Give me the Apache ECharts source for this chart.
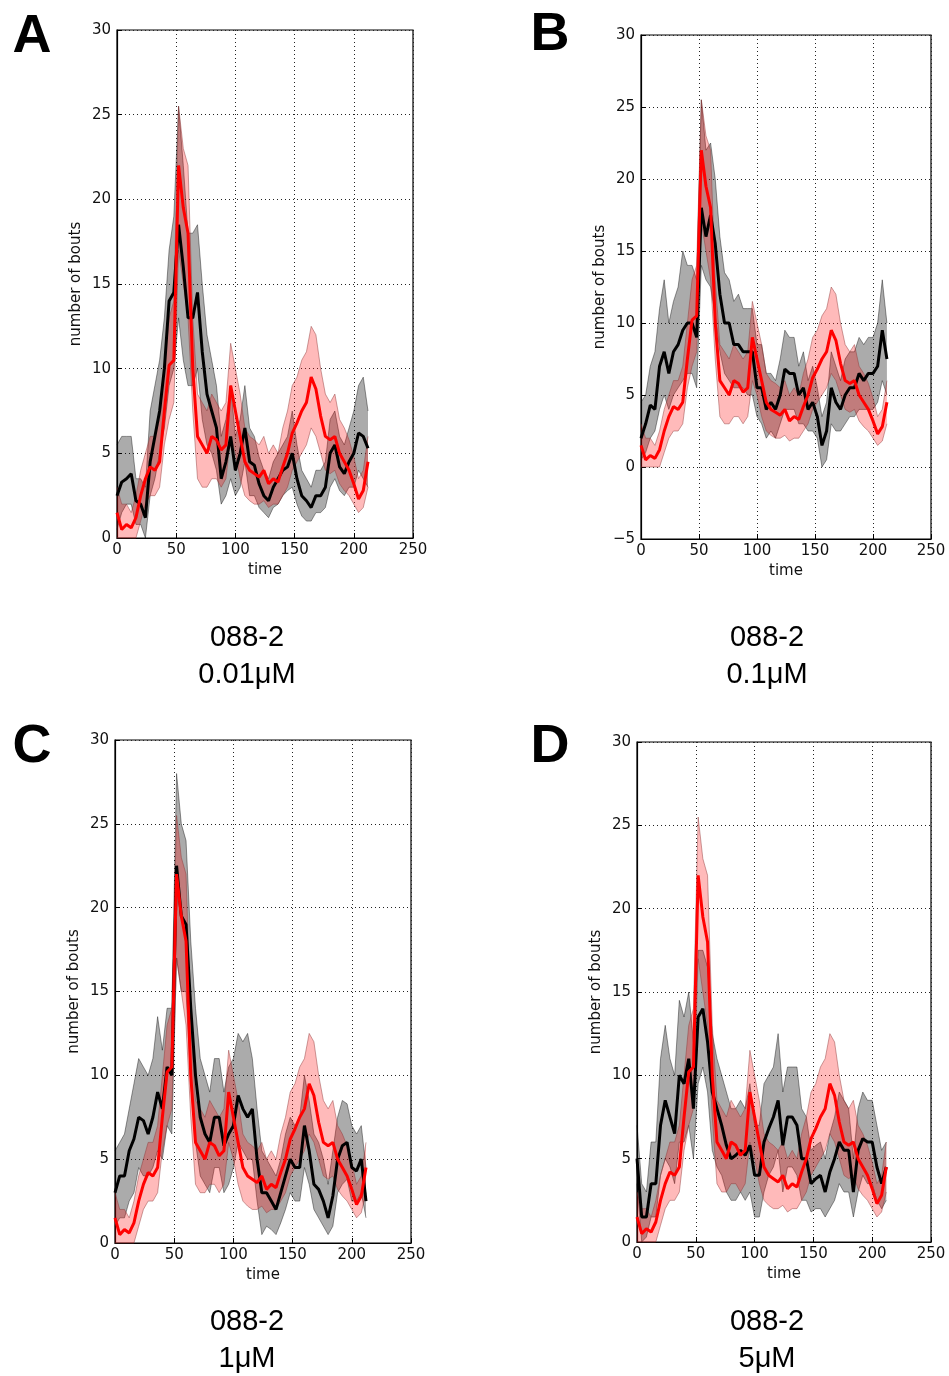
<!DOCTYPE html>
<html>
<head>
<meta charset="utf-8">
<script src="https://cdn.jsdelivr.net/npm/echarts@6/dist/echarts.min.js"></script>
<style>html,body{margin:0;padding:0;background:#fff}#c{width:949px;height:1376px}</style>
</head>
<body>
<div id="c"></div>
<script>
// ---- data ----
const times = [0,4,8,12,16,20,24,28,32,36,40,44,48,52,56,60,64,68,72,76,80,84,88,92,96,100,104,108,112,116,120,124,128,132,136,140,144,148,152,156,160,164,168,172,176,180,184,188,192,196,200,204,208,212];
const xTicks = [0,50,100,150,200,250];

// red (control) series, identical in all panels
const redMean  = [1.5,0.5,0.8,0.6,1.2,2.5,3.5,4.2,4.0,4.5,7.5,10.2,10.5,22,19.5,18,10,6,5.5,5,6,5.8,5.2,5.5,9,7.5,6,4.5,4,3.8,3.6,4,3.2,3.5,3.3,4.2,5,6.2,6.8,7.5,8,9.5,8.8,7.2,6,5.8,6,5,4.5,4,3.2,2.3,2.8,4.5];
const redLower = [0,0,0,0,0,1,2,2.5,2.5,3,5.5,7,8,17,15,13,7.5,3.5,3,3,3.5,3.5,3,3.5,6,5,3.5,2.5,2.2,2,2,2.2,1.8,2,2,2.5,3,4,4.5,5,5.5,6.5,6,5,4,3.8,4,3.2,2.8,2.5,2,1.5,1.8,3];
const redUpper = [3,2,2,1.5,2.5,4,5,6,6,7,10,13,14,25.5,23,22,13,8.5,8,7.5,8.5,8,7.5,8,11.5,10,8.5,6.5,6,5.8,5.5,6,5,5.5,5,6.5,7.5,9,9.5,10.5,11,12.5,12,10,8.5,8,8.5,7,6.5,5.8,4.8,3.5,4,6];

// black series, panel A (0.01 uM)
const blackA      = [2.5,3.3,3.5,3.8,2.2,2,1.2,4.5,6,7.5,10,14,14.5,18.5,16,13,13,14.5,11,8.5,7.5,6.5,3.5,4.5,6,4,5,6.5,4.5,4.3,3.2,2.5,2.2,3,3.5,4,4.2,5,3.5,2.5,2.2,1.8,2.5,2.5,3,5,5.5,4.2,3.8,4.5,5,6.2,6,5.3];
const blackALower = [0.5,1.5,2,2,0.8,0.8,0,2.5,3.5,5,6.5,9,10,13,10.5,9,9,10,7,5.5,5,4,2,2.5,3.5,2.5,3,4.5,2.5,2.5,1.8,1.5,1.2,1.8,2,2.5,2.8,3,2,1.3,1,1,1.5,1.5,1.8,3,3.5,2.8,2.5,3,3,4,3.5,3];
const blackAUpper = [5.5,6,6,6,3.5,3.5,3,7.5,9,10.5,13,17,19,25.5,22,18,18,18.5,15,12,10.5,9,6,7,9,6,7,9,6.5,6,4.8,4,3.5,4.5,5,5.5,6,7.5,5.5,4,3.5,3,4,4,4.5,7,7.5,6,5.5,6.5,7.5,9,9.5,7.5];

// panel B (0.1 uM)
const blackB      = [2,3,4.3,4,7,8,6.5,8,8.5,9.5,10,10,9,18,16,17.5,15.5,12,10,10,8.5,8.5,8,8,8,5.5,5.5,4,4.5,4,5,6.8,6.5,6.5,5,5.5,4,4.5,3.5,1.5,2.5,5.5,4.5,4,5,5.5,5.5,6.5,6,6.5,6.5,7,9.5,7.5];
const blackBLower = [0.5,1,2,2.5,4,5,4,5,5.5,6,6.5,6.5,5.5,14,13,12.5,10.5,8,6.5,6,5.5,5.5,5.5,5,5,3.5,3,2,2.5,2,3,4,4,4,3,3,2.5,2.5,2,0,0.5,3,2.5,2.5,3,3.5,3.5,4,4,4,4,4.5,6,5];
const blackBUpper = [4.5,5,7,8,11,13,10,11.5,12.5,15,14,14,13,25.5,22,22.5,20,16,13.5,13,11.5,12,11,11,11,8.5,8.5,6.5,6.5,6,7.5,9.5,9,9,7,8,6,7,5.5,3.5,4.5,8,7,6,7.5,8,8,9,8.5,9,9,10,13,10];

// panel C (1 uM)
const blackC      = [3,4,4,5.5,6.2,7.5,7.3,6.5,7.5,9,8,10.5,10,22.5,19.5,19,14,10,7.5,6.5,6,7.5,7.5,5.8,6.5,7,8.8,8,7.5,8,5,3,3,2.5,2,3,4,5,4.5,4.5,7,5.5,3.5,3.2,2.5,1.5,2.8,5,5.8,6,4.5,4.3,5,2.5];
const blackCLower = [1,1.5,1.5,2.5,3,4.5,4,4,4.5,5.5,5,7,6.5,17,15,15,9.5,6,4,3.5,3,4.5,4.5,3,3.5,4.5,6,5.5,5,5,2.5,0.5,1,0.8,0.5,1.2,2,3,2.5,2.5,4.5,3.5,2,1.5,1,0.5,1,3,3.5,3.8,2.5,2.5,3,1.5];
const blackCUpper = [5.5,6,6.5,8,9.5,11,10.5,10,11,13.5,11.5,14,14,28,25,24,18,14,11,10,9,11,11,9,10.5,11,12.5,12,12.5,11,8,5.5,5,4.5,4,5,6.5,7.5,7,7.5,10,8.5,6.5,6,5,3.5,5.5,7.5,8.5,8.3,7,6.5,7,4.5];

// panel D (5 uM)
const blackD      = [5,1.5,1.5,3.5,3.5,7,8.5,7.5,6.5,10,9.5,11,8,13.5,14,12,9,8,7,5.8,5,5.2,5.5,5.2,5.8,4,4,6,6.8,7.5,8.5,5.8,7.5,7.5,7,5,5,3.5,3.8,4,3,4.2,5,6,5.5,5.5,3,5.5,6.2,6,6,4.5,3.5,4.5];
const blackDLower = [3.5,0,0.3,1.5,1.5,4,5,4.5,3.5,6,6,7,5,9.5,10.5,9,5.5,4.5,4,3,2.5,2.5,3,2.5,3,1.5,1.5,3,4,4.5,5.5,3,4.5,4.5,4,2.5,2.5,1.8,2,2,1.5,2,2.5,3.5,3,3,1.5,3,4,3.5,3.5,2.5,2,2.5];
const blackDUpper = [7,3.5,3,6,6,11,13,11,10,14.5,13.5,15,12,17.5,17.5,16.5,12.5,11,10,9,8,8,8.5,8,9.5,7,7,9.5,10,10.5,12.5,9,10.5,10.5,10.5,8,7.5,5.5,5.8,6,5,6.5,7.5,9,8.5,8,5,8,9,8.5,8.5,7,5.5,6];

const letters  = ['A','B','C','D'];
const compound = ['088-2','088-2','088-2','088-2'];
const doses    = ['0.01\u03bcM','0.1\u03bcM','1\u03bcM','5\u03bcM'];
const yMins    = [0,-5,0,0];
const yMax     = 30;

// ---- layout ----
const panels = [
  {grid:{left:117,top:30,width:296,height:508}, black:blackA, lo:blackALower, hi:blackAUpper, letterPos:[32,37], capX:247, capY:637},
  {grid:{left:641,top:35,width:290,height:504}, black:blackB, lo:blackBLower, hi:blackBUpper, letterPos:[550,35], capX:767, capY:637},
  {grid:{left:115,top:740,width:296,height:503}, black:blackC, lo:blackCLower, hi:blackCUpper, letterPos:[32,747], capX:247, capY:1321},
  {grid:{left:637,top:742,width:294,height:500}, black:blackD, lo:blackDLower, hi:blackDUpper, letterPos:[550,747], capX:767, capY:1321}
];

const pair = arr => times.map((t,i)=>[t,arr[i]]);

// band drawn as one polygon through the axis scales
function bandSeries(i, lo, hi, fill, edge, z){
  return {
    type:'custom', xAxisIndex:i, yAxisIndex:i, silent:true, animation:false, z:z,
    data: times.map((t,k)=>[t, lo[k], hi[k]]),
    encode:{x:0, y:[1,2]},
    renderItem:function(params, api){
      if (params.dataIndex !== 0) return;
      const up = times.map((t,k)=>api.coord([t, hi[k]]));
      const dn = times.map((t,k)=>api.coord([t, lo[k]]));
      const poly = up.concat(dn.slice().reverse());
      return {type:'group', children:[
        {type:'polygon', shape:{points:poly}, style:{fill:fill, stroke:null}},
        {type:'polyline', shape:{points:up}, style:{fill:null, stroke:edge, lineWidth:1}},
        {type:'polyline', shape:{points:dn}, style:{fill:null, stroke:edge, lineWidth:1}}
      ]};
    }
  };
}

const grids=[], xAxes=[], yAxes=[], series=[], graphics=[];
const labelFont = {fontFamily:'DejaVu Sans', fontSize:15, color:'#111'};

panels.forEach((p,i)=>{
  grids.push(Object.assign({show:true, borderColor:'#000', borderWidth:1.2, backgroundColor:'transparent', containLabel:false}, p.grid));
  xAxes.push({type:'value', gridIndex:i, min:xTicks[0], max:xTicks[xTicks.length-1], interval:50,
    name:'time', nameLocation:'middle', nameGap:25, nameTextStyle:Object.assign({},labelFont),
    axisLine:{show:true, onZero:false, lineStyle:{color:'#000', width:1.2}},
    axisTick:{show:true, inside:true, length:5, lineStyle:{color:'#000'}},
    axisLabel:Object.assign({margin:5}, labelFont),
    splitLine:{show:true, lineStyle:{color:'#222', width:1, type:[1,3]}}});
  yAxes.push({type:'value', gridIndex:i, min:yMins[i], max:yMax, interval:5,
    name:'number of bouts', nameLocation:'middle', nameGap:33, nameTextStyle:Object.assign({},labelFont),
    axisLine:{show:true, lineStyle:{color:'#000', width:1.2}},
    axisTick:{show:true, inside:true, length:5, lineStyle:{color:'#000'}},
    axisLabel:Object.assign({margin:6, formatter:v=>String(v).replace('-','\u2212')}, labelFont),
    splitLine:{show:true, lineStyle:{color:'#222', width:1, type:[1,3]}}});

  const common = {type:'line', xAxisIndex:i, yAxisIndex:i, symbol:'none', silent:true, animation:false};
  series.push(bandSeries(i, p.lo, p.hi, 'rgba(0,0,0,0.33)', 'rgba(0,0,0,0.4)', 1));
  series.push(bandSeries(i, redLower, redUpper, 'rgba(255,0,0,0.27)', 'rgba(140,50,50,0.45)', 2));
  series.push(Object.assign({}, common, {data:pair(p.black), lineStyle:{color:'#000', width:3}, z:3}));
  series.push(Object.assign({}, common, {data:pair(redMean), lineStyle:{color:'#ff0000', width:3}, z:4}));

  graphics.push({type:'text', x:p.letterPos[0], y:p.letterPos[1], style:{text:letters[i], font:'bold 54px "Liberation Sans", Arial, sans-serif', fill:'#000', textAlign:'center', textVerticalAlign:'middle'}});
  graphics.push({type:'text', x:p.capX, y:p.capY+1, style:{text:compound[i], font:'29px "Liberation Sans", Arial, sans-serif', fill:'#000', textAlign:'center', textVerticalAlign:'middle'}});
  graphics.push({type:'text', x:p.capX, y:p.capY+38, style:{text:doses[i], font:'29px "Liberation Sans", Arial, sans-serif', fill:'#000', textAlign:'center', textVerticalAlign:'middle'}});
});

const chart = echarts.init(document.getElementById('c'), null, {renderer:'canvas'});
chart.setOption({animation:false, backgroundColor:'#fff', grid:grids, xAxis:xAxes, yAxis:yAxes, series:series, graphic:graphics});
</script>
</body>
</html>
